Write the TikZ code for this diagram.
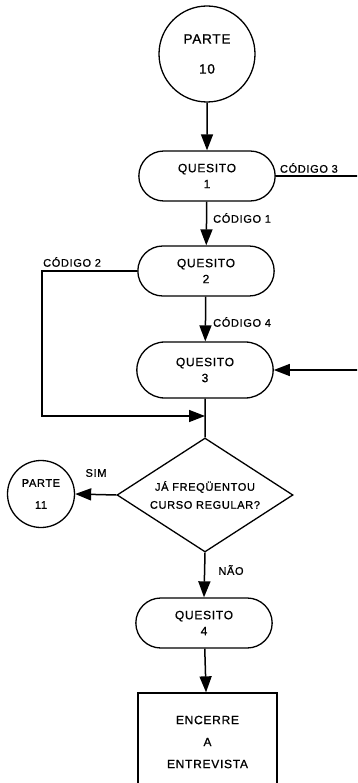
\documentclass[tikz,border=0pt]{standalone}
\usepackage{fontspec}
\setmainfont{Liberation Sans}[LetterSpace=6, FakeBold=0.9]
\usepackage{tikz}
\usetikzlibrary{arrows.meta,shapes.geometric,shapes.misc}

\tikzset{
  flow/.style={line width=1.5pt},
  arr/.style={flow, -{Triangle[length=16pt,width=12pt]}},
  quesito/.style={rounded rectangle, draw, line width=1.3pt, minimum width=143pt,
    minimum height=50pt, align=center, font=\fontsize{12}{16}\selectfont},
  parte/.style={circle, draw, line width=1.3pt, inner sep=0pt, align=center},
  lbl/.style={font=\fontsize{11}{13}\selectfont, inner sep=1pt}
}

\begin{document}
\begin{tikzpicture}[x=1pt,y=-1pt]
            \useasboundingbox (0,0) rectangle (357,783);
            \clip (0,0) rectangle (357,783);
            \node[parte, minimum size=96pt, font=\fontsize{13.5}{30}\selectfont] (p10) at (207,54) {PARTE\\10};
            \node[quesito] (q1) at (207,176) {QUESITO\\1};
            \node[quesito] (q2) at (206,271) {QUESITO\\2};
            \node[quesito, minimum height=56pt] (q3) at (205,370) {QUESITO\\3};
            \node[diamond, draw, line width=1.3pt, inner sep=0pt, aspect=1.54,
                  minimum width=176pt, minimum height=114pt, align=center,
                  font=\fontsize{11}{18}\selectfont] (d1) at (205,495) {JÁ FREQÜENTOU\\CURSO REGULAR?};
            \node[parte, minimum size=67pt, font=\fontsize{11}{22}\selectfont] (p11) at (41,494) {PARTE\\11};
            \node[quesito] (q4) at (204,623) {QUESITO\\4};
            \node[rectangle, draw, line width=1.3pt, minimum width=139pt, minimum height=98pt,
                  align=center, font=\fontsize{12}{22}\selectfont] (fim) at (207.5,742) {ENCERRE\\A\\ENTREVISTA};
            \coordinate (jn) at (q3.south |- 0,416);
            % ligacoes
            \draw[arr] (p10) -- (q1);
            \draw[arr] (q1) -- (q2);
            \draw[arr] (q2) -- (q3);
            \draw[flow] (q3) -- (d1.north);
            \draw[arr] (q2.west) -- (42,271) -- (42,416) -- (jn);
            \draw[arr] (q1.east) -- (365,176) -- (365,370) -- (q3.east);
            \draw[arr] (d1.west) -- (p11.east);
            \draw[arr] (d1.south) -- (q4.north);
            \draw[arr] (q4) -- (fim);
            % rotulos
            \node[lbl, anchor=south west] (c3) at ([xshift=3pt,yshift=2pt]q1.east) {CÓDIGO 3};
            \node[lbl, anchor=west] (c1) at (212,218) {CÓDIGO 1};
            \node[lbl, anchor=south west] (c2) at (42,268) {CÓDIGO 2};
            \node[lbl, anchor=west] (c4) at (212,322) {CÓDIGO 4};
            \node[lbl] (sim) at (96,473) {SIM};
            \node[lbl] (nao) at (231,570) {NÃO};
        \end{tikzpicture}
\end{document}
